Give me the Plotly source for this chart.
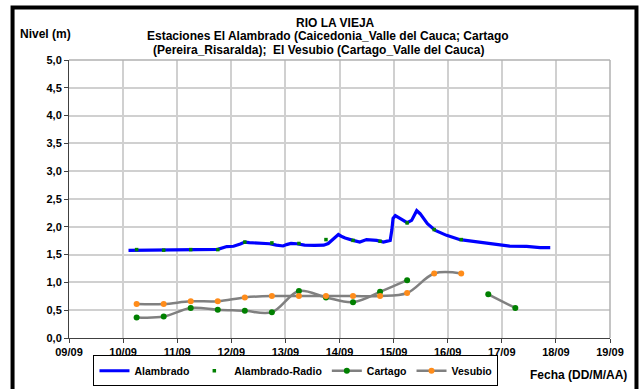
import plotly.graph_objects as go

# --- Alambrado (nivel continuo, m) ---
alambrado_t = [
    "2011-09-10 02:24", "2011-09-10 12:00", "2011-09-10 18:00", "2011-09-11 00:00",
    "2011-09-11 06:00", "2011-09-11 12:00", "2011-09-11 18:00", "2011-09-11 22:00",
    "2011-09-12 01:00", "2011-09-12 04:00", "2011-09-12 06:00", "2011-09-12 08:00",
    "2011-09-12 12:00", "2011-09-12 17:00", "2011-09-12 20:00", "2011-09-12 23:00",
    "2011-09-13 00:30", "2011-09-13 02:30", "2011-09-13 05:00", "2011-09-13 08:30",
    "2011-09-13 13:00", "2011-09-13 17:00", "2011-09-13 19:00", "2011-09-13 21:30",
    "2011-09-13 23:30", "2011-09-14 00:45", "2011-09-14 02:30", "2011-09-14 06:00",
    "2011-09-14 09:00", "2011-09-14 12:00", "2011-09-14 16:30", "2011-09-14 19:30",
    "2011-09-14 22:30", "2011-09-14 23:15", "2011-09-14 23:45", "2011-09-15 00:45",
    "2011-09-15 03:00", "2011-09-15 06:00", "2011-09-15 08:00", "2011-09-15 09:30",
    "2011-09-15 10:15", "2011-09-15 11:45", "2011-09-15 15:00", "2011-09-15 18:30",
    "2011-09-15 23:30", "2011-09-16 05:30", "2011-09-16 13:00", "2011-09-16 20:00",
    "2011-09-17 03:30", "2011-09-17 11:00", "2011-09-17 17:00", "2011-09-17 21:30",
]
alambrado_v = [
    1.575, 1.578, 1.575, 1.575,
    1.590, 1.590, 1.595, 1.645,
    1.650, 1.690, 1.725, 1.715,
    1.710, 1.695, 1.670, 1.655,
    1.680, 1.700, 1.695, 1.670,
    1.665, 1.670, 1.700, 1.800,
    1.860, 1.830, 1.800, 1.756,
    1.725, 1.770, 1.756, 1.725,
    1.756, 1.950, 2.150, 2.200,
    2.146, 2.074, 2.115, 2.250,
    2.290, 2.236, 2.056, 1.936,
    1.846, 1.768, 1.726, 1.684,
    1.654, 1.648, 1.625, 1.625,
]

# --- Lecturas cada 12 horas ---
lecturas_t = [
    "2011-09-10 06:00", "2011-09-10 18:00", "2011-09-11 06:00", "2011-09-11 18:00",
    "2011-09-12 06:00", "2011-09-12 18:00", "2011-09-13 06:00", "2011-09-13 18:00",
    "2011-09-14 06:00", "2011-09-14 18:00", "2011-09-15 06:00", "2011-09-15 18:00",
    "2011-09-16 06:00", "2011-09-16 18:00", "2011-09-17 06:00",
]
radio_v = [1.59, 1.58, 1.59, 1.59, 1.725, 1.71, 1.70, 1.77, 1.756, 1.74, 2.07, 1.95, 1.77]
cartago_v = [0.37, 0.385, 0.54, 0.51, 0.49, 0.465, 0.845, 0.73, 0.645, 0.83, 1.04,
             None, None, 0.785, 0.54]
vesubio_v = [0.61, 0.61, 0.66, 0.66, 0.73, 0.755, 0.755, 0.755, 0.755, 0.755, 0.81,
             1.16, 1.16]

# ejes
y_ticks = [0, 0.5, 1, 1.5, 2, 2.5, 3, 3.5, 4, 4.5, 5]
x_ticks = ["2011-09-%02d" % d for d in range(9, 20)]
x_labels = ["%02d/09" % d for d in range(9, 20)]

# título en tres renglones
title_lines = [
    "RIO LA VIEJA",
    "Estaciones El Alambrado (Caicedonia_Valle del Cauca; Cartago",
    "(Pereira_Risaralda);  El Vesubio (Cartago_Valle del Cauca)",
]

FONT = "Liberation Sans, Arial, sans-serif"
GREY_LINE = "#808080"


def bold(s):
    return "<b>%s</b>" % s


fig = go.Figure()
fig.add_trace(go.Scatter(
    x=alambrado_t, y=alambrado_v, name=bold("Alambrado"), mode="lines",
    line=dict(color="#0000ff", width=3.2),
))
fig.add_trace(go.Scatter(
    x=lecturas_t[:len(radio_v)], y=radio_v, name=bold("Alambrado-Radio"), mode="markers",
    marker=dict(color="#008000", size=3.5, symbol="square"),
))
fig.add_trace(go.Scatter(
    x=lecturas_t[:len(cartago_v)], y=cartago_v, name=bold("Cartago"), mode="lines+markers",
    line=dict(color=GREY_LINE, width=2.5, shape="spline", smoothing=1),
    marker=dict(color="#008000", size=6),
    connectgaps=False,
))
fig.add_trace(go.Scatter(
    x=lecturas_t[:len(vesubio_v)], y=vesubio_v, name=bold("Vesubio"), mode="lines+markers",
    line=dict(color=GREY_LINE, width=2.5, shape="spline", smoothing=1),
    marker=dict(color="#ff8c1a", size=6),
))

W, H = 640, 389
L, R, T, B = 68.5, 30, 59.5, 51.3
pw, ph = W - L - R, H - T - B


def px(x):
    return (x - L) / pw


def py(y):
    return (H - B - y) / ph


axis_common = dict(
    showgrid=True, gridcolor="#d0d0d0", gridwidth=1.5,
    showline=True, linecolor="#404040", linewidth=1,
    ticks="outside", ticklen=4, tickcolor="#404040",
    tickfont=dict(family=FONT, size=11, color="black"),
    zeroline=False, fixedrange=True,
)

annotations = [
    dict(text=bold(line), xref="paper", yref="paper", x=px(cx), y=py(cy),
         xanchor="center", yanchor="middle", showarrow=False,
         font=dict(family=FONT, size=12))
    for line, cx, cy in zip(title_lines, [335, 328, 318], [22, 35.5, 49])
]
annotations += [
    dict(text=bold("Nivel (m)"), xref="paper", yref="paper", x=px(17), y=py(33),
         xanchor="left", yanchor="middle", showarrow=False, font=dict(family=FONT, size=12)),
    dict(text=bold("Fecha (DD/M/AA)"), xref="paper", yref="paper", x=px(629), y=py(375),
         xanchor="right", yanchor="middle", showarrow=False, font=dict(family=FONT, size=12)),
]

fig.update_layout(
    width=W, height=H,
    margin=dict(l=L, r=R, t=T, b=B, pad=0, autoexpand=False),
    paper_bgcolor="white", plot_bgcolor="white",
    font=dict(family=FONT, size=11, color="black"),
    showlegend=True,
    legend=dict(
        orientation="h", x=px(93), xanchor="left", y=py(386), yanchor="bottom",
        bordercolor="black", borderwidth=1, bgcolor="white",
        font=dict(family=FONT, size=10.5, color="black"),
        itemwidth=30, tracegroupgap=0,
    ),
    xaxis=dict(
        type="date", range=["2011-09-09", "2011-09-19"],
        tickvals=x_ticks, ticktext=[bold(s) for s in x_labels],
        **axis_common,
    ),
    yaxis=dict(
        range=[0, 5], tickvals=y_ticks,
        ticktext=[bold(("%.1f" % v).replace(".", ",")) for v in y_ticks],
        **axis_common,
    ),
    shapes=[
        # marco exterior
        dict(type="rect", xref="paper", yref="paper",
             x0=px(12), x1=px(636.5), y0=py(400), y1=py(7),
             line=dict(color="black", width=4), layer="above"),
        # bordes superior y derecho del área de trazado
        dict(type="line", xref="paper", yref="paper", x0=0, x1=1, y0=1, y1=1,
             line=dict(color="#b0b0b0", width=1.5)),
        dict(type="line", xref="paper", yref="paper", x0=1, x1=1, y0=0, y1=1,
             line=dict(color="#b0b0b0", width=1.5)),
    ],
    annotations=annotations,
)

fig.write_html("out.html")
